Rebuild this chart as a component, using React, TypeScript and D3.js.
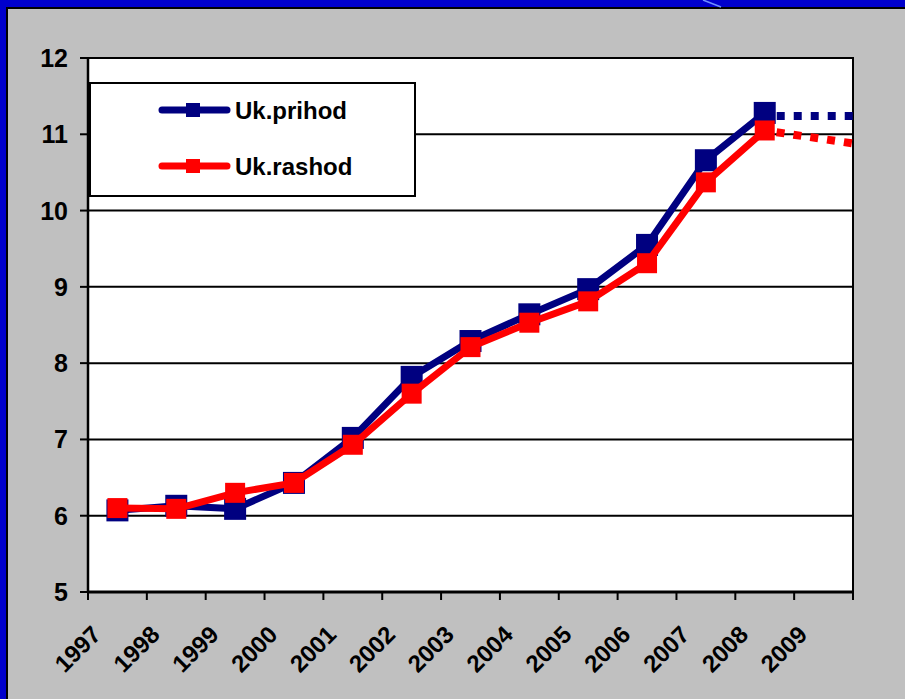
import React from "react";
import * as d3 from "d3";

const years = ["1997","1998","1999","2000","2001","2002","2003","2004","2005","2006","2007","2008","2009"];
const prihod = [6.07, 6.13, 6.09, 6.43, 7.02, 7.82, 8.29, 8.64, 8.97, 9.55, 10.66, 11.28];
const rashod = [6.10, 6.09, 6.30, 6.43, 6.93, 7.60, 8.21, 8.53, 8.81, 9.31, 10.37, 11.05];
const forecastPos = [11, 12.5];
const prihodForecast = [11.24, 11.24];
const rashodForecast = [11.05, 10.88];
const yTicks = [5, 6, 7, 8, 9, 10, 11, 12];
const seriesNames = ["Uk.prihod", "Uk.rashod"];

const W = 905, H = 699;
const L = 88, R = 853, T = 58, B = 592;
const FONT = "Arial, 'Liberation Sans', sans-serif";
const NAVY = "#000080";
const RED = "#ff0000";

export default function App() {
  const x = d3.scaleLinear().domain([0, years.length]).range([L, R]);
  const xc = (i: number) => x(i + 0.5);
  const y = d3.scaleLinear().domain([5, 12]).range([B, T]);
  const line = d3.line<number>().x((_, i) => xc(i)).y((d) => y(d));
  const fline = d3.line<number>().x((_, i) => xc(forecastPos[i])).y((d) => y(d));

  const series = [
    { name: seriesNames[0], data: prihod, fc: prihodForecast, color: NAVY, ms: 22 },
    { name: seriesNames[1], data: rashod, fc: rashodForecast, color: RED, ms: 20 },
  ];

  return (
    <svg width={W} height={H} style={{ position: "absolute", left: 0, top: 0 }} fontFamily={FONT}>
      <rect x={0} y={0} width={W} height={H} fill="#c0c0c0" />
      <rect x={0} y={0} width={W} height={7} fill="#0000cc" />
      <rect x={0} y={0} width={6} height={H} fill="#0000cc" />
      <line x1={6} y1={8} x2={W} y2={8} stroke="#000" strokeWidth={2} />
      <line x1={7} y1={8} x2={7} y2={H} stroke="#000" strokeWidth={2} />
      <line x1={703} y1={0} x2={721} y2={7} stroke="#6f8fff" strokeWidth={1.5} />

      <rect x={L} y={T} width={R - L} height={B - T} fill="#fff" stroke="#000" strokeWidth={2} />
      {yTicks.map((t) => (
        <g key={t}>
          <line x1={L} x2={R} y1={y(t)} y2={y(t)} stroke="#000" strokeWidth={2} />
          <line x1={L - 8} x2={L} y1={y(t)} y2={y(t)} stroke="#000" strokeWidth={2} />
          <text x={68} y={y(t)} dy="0.36em" textAnchor="end" fontSize={25} fontWeight="bold">{t}</text>
        </g>
      ))}
      <line x1={L} x2={L} y1={T} y2={B + 1} stroke="#000" strokeWidth={2.5} />
      <line x1={L - 1} x2={R + 1} y1={B} y2={B} stroke="#000" strokeWidth={3} />
      {d3.range(years.length + 1).map((i) => (
        <line key={i} x1={x(i)} x2={x(i)} y1={B} y2={B + 8} stroke="#000" strokeWidth={2} />
      ))}
      {years.map((yr, i) => (
        <text key={yr} transform={`translate(${xc(i) - 15},${636}) rotate(-45)`} textAnchor="end" fontSize={24} fontWeight="bold">{yr}</text>
      ))}

      {series.map((s) => (
        <g key={s.name}>
          <path d={fline(s.fc) || ""} fill="none" stroke={s.color} strokeWidth={8} strokeDasharray="8 9" strokeDashoffset={-12} />
          <path d={line(s.data) || ""} fill="none" stroke={s.color} strokeWidth={7} strokeLinejoin="round" />
          {s.data.map((v, i) => (
            <rect key={i} x={xc(i) - s.ms / 2} y={y(v) - s.ms / 2} width={s.ms} height={s.ms} fill={s.color} />
          ))}
        </g>
      ))}

      <rect x={90} y={83} width={325} height={113} fill="#fff" stroke="#000" strokeWidth={2} />
      {series.map((s, i) => {
        const ly = 110 + i * 56;
        return (
          <g key={s.name}>
            <line x1={162} x2={227} y1={ly} y2={ly} stroke={s.color} strokeWidth={7} strokeLinecap="round" />
            <rect x={186} y={ly - 7} width={14} height={14} fill={s.color} />
            <text x={235} y={ly + 9} fontSize={24} fontWeight="bold">{s.name}</text>
          </g>
        );
      })}
    </svg>
  );
}
